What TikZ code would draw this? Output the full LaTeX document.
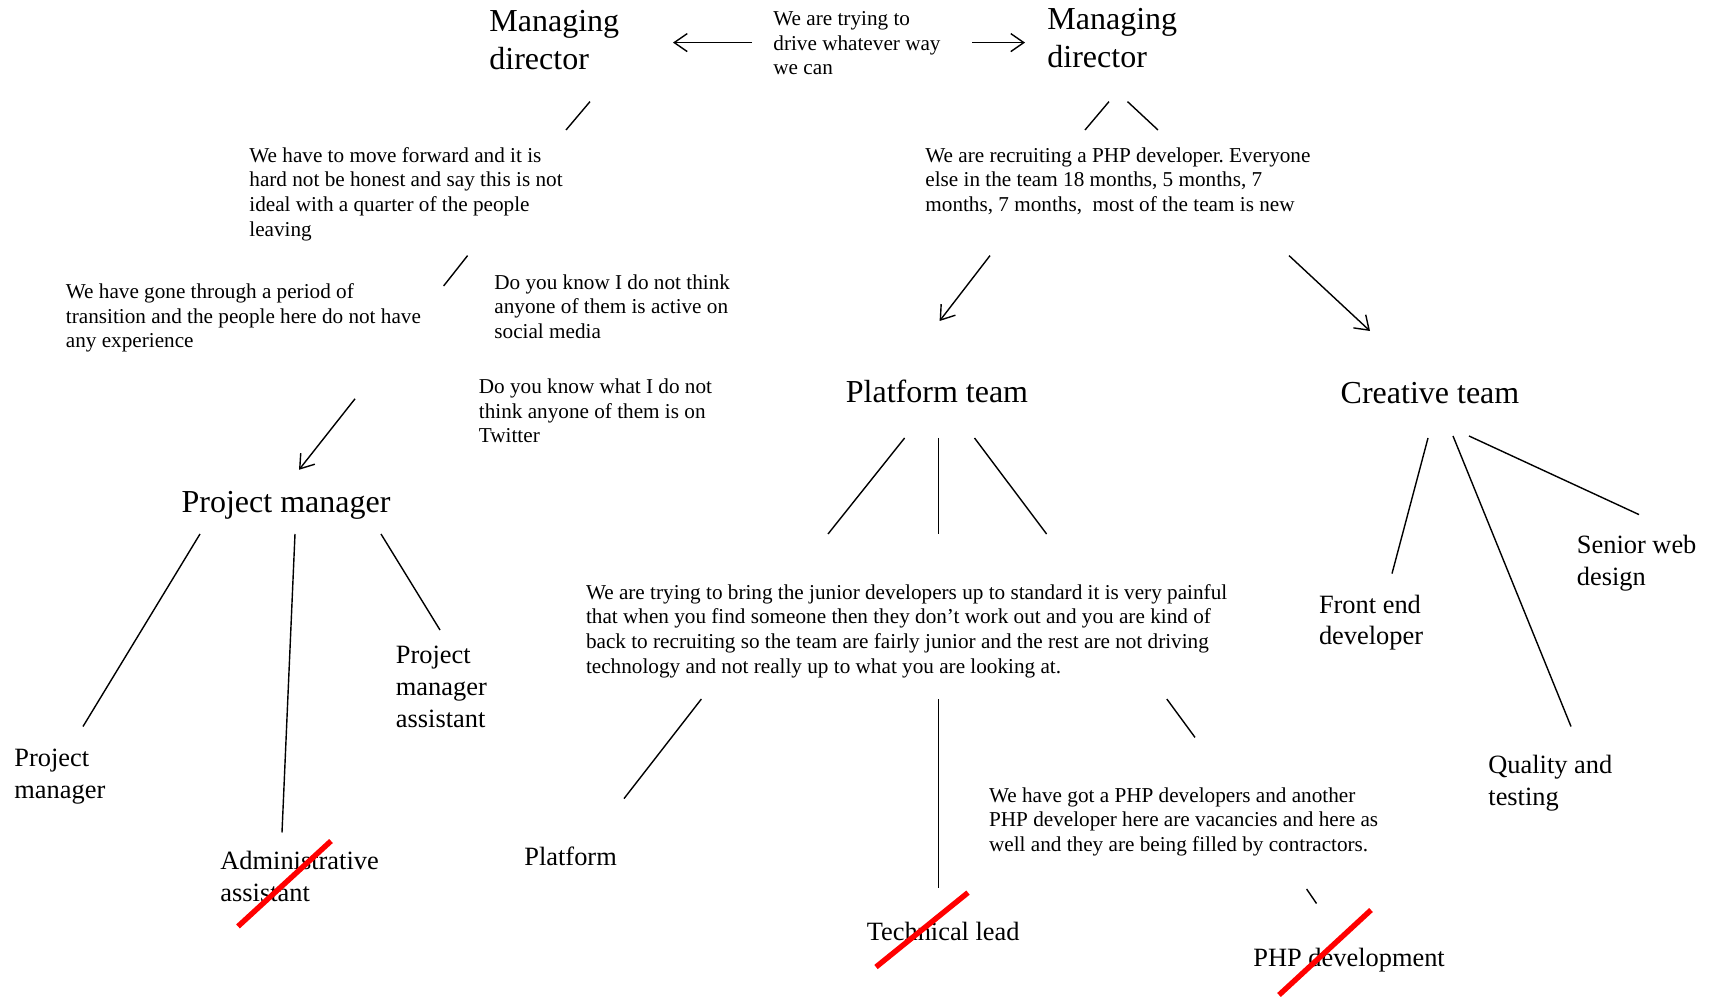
\documentclass[tikz,border=0pt]{standalone}
\usepackage{fontspec}
\setmainfont{Liberation Serif}
\usetikzlibrary{arrows.meta}
\frenchspacing
\begin{document}
% multi-line nodes are placed by the baseline of their last line
\begin{tikzpicture}[x=0.5pt,y=-0.5pt,
  big/.style={font=\fontsize{16}{19}\selectfont, inner sep=0pt, align=left},
  mid/.style={font=\fontsize{13.2}{16}\selectfont, inner sep=0pt, align=left},
  small/.style={font=\fontsize{10.6}{12.3}\selectfont, inner sep=0pt, align=left, yshift=-1.4pt},
  link/.style={draw=black, line width=0.7pt},
  arr/.style={link, -{Straight Barb[length=6.5pt,width=9pt]}},
  strike/.style={draw=red, line width=2.7pt}]
\fill[white] (0,0) rectangle (1713,999);
\useasboundingbox (0,0) rectangle (1713,999);

% ---- top level ----
\node[big, anchor=base west] (md1) at (489,70) {Managing\\director};
\node[big, anchor=base west] (md2) at (1047,68) {Managing\\director};
\node[small, anchor=base west] (drive) at (773,72.2) {We are trying to\\drive whatever way\\we can};

\coordinate (a1s) at (752,42.6); \coordinate (a1e) at (673,42.6);
\coordinate (a2s) at (972,42.6); \coordinate (a2e) at (1025,42.6);
\draw[arr] (a1s) -- (a1e);
\draw[arr] (a2s) -- (a2e);

% ---- left branch ----
\coordinate (l1s) at (590,101.6); \coordinate (l1e) at (566,130);
\draw[link] (l1s) -- (l1e);
\node[small, anchor=base west] (forward) at (249,233.3)
  {We have to move forward and it is\\hard not be honest and say this is not\\ideal with a quarter of the people\\leaving};
\coordinate (l2s) at (467.6,255.6); \coordinate (l2e) at (443.6,286);
\draw[link] (l2s) -- (l2e);
\node[small, anchor=base west] (transition) at (65.5,345.2)
  {We have gone through a period of\\transition and the people here do not have\\any experience};
\node[small, anchor=base west] (social) at (494,335.5)
  {Do you know I do not think\\anyone of them is active on\\social media};
\node[small, anchor=base west] (twitter) at (478.5,440.2)
  {Do you know what I do not\\think anyone of them is on\\Twitter};
\coordinate (a3s) at (355,398.8); \coordinate (a3e) at (299,469.8);
\draw[arr] (a3s) -- (a3e);

\node[big, anchor=base] (pm) at (286,513) {Project manager};
\coordinate (p1s) at (200,534); \coordinate (p1e) at (83,726.5);
\coordinate (p2s) at (295,534); \coordinate (p2e) at (282,832.5);
\coordinate (p3s) at (381,534); \coordinate (p3e) at (440,630);
\draw[link] (p1s) -- (p1e);
\draw[link] (p2s) -- (p2e);
\draw[link] (p3s) -- (p3e);
\node[mid, anchor=base west] (pmleaf) at (14,798) {Project\\manager};
\node[mid, anchor=base west] (admin) at (220,901) {Administrative\\assistant};
\node[mid, anchor=base west] (pma) at (395.5,727.5) {Project\\manager\\assistant};
\coordinate (s1s) at (331,841); \coordinate (s1e) at (238,926.4);
\draw[strike] (s1s) -- (s1e);

% ---- right branch ----
\coordinate (r1s) at (1109,101.6); \coordinate (r1e) at (1085,130);
\coordinate (r2s) at (1127.5,101.6); \coordinate (r2e) at (1158,130);
\draw[link] (r1s) -- (r1e);
\draw[link] (r2s) -- (r2e);
\node[small, anchor=base west] (recruit) at (925,208.7)
  {We are recruiting a PHP developer. Everyone\\else in the team 18 months, 5 months, 7\\months, 7 months,~ most of the team is new};
\coordinate (a4s) at (990,255.6); \coordinate (a4e) at (939.6,321);
\coordinate (a5s) at (1289,255.6); \coordinate (a5e) at (1370,331);
\draw[arr] (a4s) -- (a4e);
\draw[arr] (a5s) -- (a5e);

% platform team
\node[big, anchor=base] (pt) at (937,403) {Platform team};
\coordinate (t1s) at (904.6,438); \coordinate (t1e) at (828,534);
\coordinate (t2s) at (938.5,438); \coordinate (t2e) at (938.5,534);
\coordinate (t3s) at (974.5,438); \coordinate (t3e) at (1046.6,534);
\draw[link] (t1s) -- (t1e);
\draw[link] (t2s) -- (t2e);
\draw[link] (t3s) -- (t3e);
\node[small, anchor=base west] (junior) at (585.6,670.3)
  {We are trying to bring the junior developers up to standard it is very painful\\that when you find someone then they don’t work out and you are kind of\\back to recruiting so the team are fairly junior and the rest are not driving\\technology and not really up to what you are looking at.};
\coordinate (u1s) at (701.4,699); \coordinate (u1e) at (624,798.6);
\coordinate (u2s) at (938.5,699); \coordinate (u2e) at (938.5,888);
\coordinate (u3s) at (1166.8,699); \coordinate (u3e) at (1195,737.4);
\draw[link] (u1s) -- (u1e);
\draw[link] (u2s) -- (u2e);
\draw[link] (u3s) -- (u3e);
\node[mid, anchor=base west] (platform) at (524,865.6) {Platform};
\node[mid, anchor=base west] (techlead) at (866.4,940) {Technical lead};
\coordinate (s2s) at (968,892.6); \coordinate (s2e) at (876,967);
\draw[strike] (s2s) -- (s2e);
\node[small, anchor=base west] (contract) at (988.7,848.7)
  {We have got a PHP developers and another\\PHP developer here are vacancies and here as\\well and they are being filled by contractors.};
\coordinate (u4s) at (1306.6,889); \coordinate (u4e) at (1316.5,903.5);
\draw[link] (u4s) -- (u4e);
\node[mid, anchor=base west] (phpdev) at (1253,966) {PHP development};
\coordinate (s3s) at (1371,910); \coordinate (s3e) at (1279,995);
\draw[strike] (s3s) -- (s3e);

% creative team
\node[big, anchor=base] (ct) at (1430,404) {Creative team};
\coordinate (c1s) at (1428,438); \coordinate (c1e) at (1392,573.6);
\coordinate (c2s) at (1453,436); \coordinate (c2e) at (1571,726.5);
\coordinate (c3s) at (1469,436); \coordinate (c3e) at (1639,514.6);
\draw[link] (c1s) -- (c1e);
\draw[link] (c2s) -- (c2e);
\draw[link] (c3s) -- (c3e);
\node[mid, anchor=base west] (frontend) at (1318.6,645) {Front end\\developer};
\node[mid, anchor=base west] (senior) at (1576.5,586) {Senior web\\design};
\node[mid, anchor=base west] (quality) at (1488,805) {Quality and\\testing};
\end{tikzpicture}
\end{document}
